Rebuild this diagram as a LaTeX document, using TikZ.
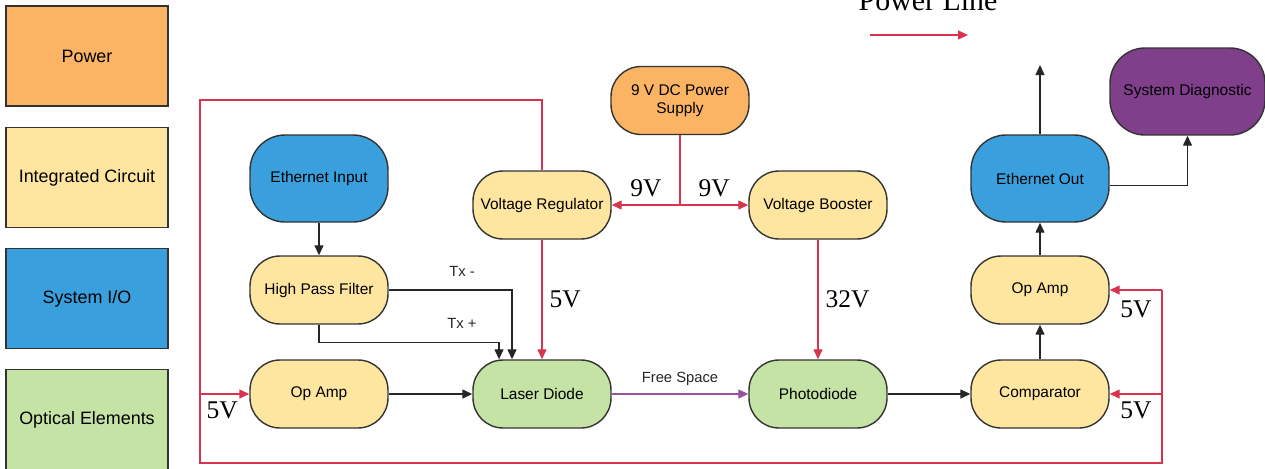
\documentclass[tikz,border=0pt]{standalone}
\usepackage{fontspec}
\setmainfont{Liberation Serif}
\setsansfont{Liberation Sans}
\usetikzlibrary{positioning,arrows.meta}
\definecolor{pwor}{HTML}{FAB464}
\definecolor{icyel}{HTML}{FFE6A0}
\definecolor{iobl}{HTML}{3AA0DD}
\definecolor{optgr}{HTML}{C4E3A4}
\definecolor{diagpu}{HTML}{7F3F8B}
\definecolor{pline}{HTML}{D9344E}
\definecolor{fsp}{HTML}{9A4FA0}
\definecolor{edge}{HTML}{333333}

\begin{document}
\begin{tikzpicture}[x=0.02cm,y=-0.02cm,>={Triangle[length=2mm,width=1.8mm]},
  blk/.style={draw=edge,line width=0.8pt,rounded corners=0.6cm,minimum width=2.76cm,
    minimum height=1.36cm,inner sep=2pt,align=center,font=\sffamily\fontsize{8.8}{10.5}\selectfont},
  ic/.style={blk,fill=icyel},
  io/.style={blk,fill=iobl,minimum height=1.74cm,rounded corners=0.7cm},
  opt/.style={blk,fill=optgr},
  pw/.style={blk,fill=pwor},
  leg/.style={draw=edge,line width=1.1pt,minimum width=3.24cm,minimum height=2cm,
    font=\sffamily\fontsize{10.2}{12}\selectfont},
  sig/.style={->,line width=0.75pt,black!85},
  pwr/.style={->,line width=0.75pt,pline},
  vlab/.style={text=black,font=\rmfamily\fontsize{14.5}{16}\selectfont,inner sep=4pt},
  slab/.style={text=black!85,font=\sffamily\fontsize{8.4}{10}\selectfont}]
  \useasboundingbox (0,0) rectangle (1265,468);

  % legend
  \node[leg,fill=pwor] (lpow) at (87,56) {Power};
  \node[leg,fill=icyel] (lic) at (87,177.5) {Integrated Circuit};
  \node[leg,fill=iobl] (lio) at (87,298.5) {System I/O};
  \node[leg,fill=optgr] (lopt) at (87,419.5) {Optical Elements};
  \node[font=\rmfamily\fontsize{17}{19}\selectfont,anchor=base] (plt) at (928,10) {Power Line};
  \coordinate (pla) at (870,35);
  \coordinate (plb) at (968,35);
  \draw[pwr] (pla) -- (plb);

  % blocks
  \node[io] (ethin) at (319,178.5) {Ethernet Input};
  \node[ic] (hpf) at (319,290) {High Pass Filter};
  \node[ic] (oal) at (319,394) {Op Amp};
  \node[opt] (ld) at (542,394) {Laser Diode};
  \node[ic] (vreg) at (542,205) {Voltage Regulator};
  \node[pw] (ps) at (680,100.5) {9 V DC Power\\Supply};
  \node[ic] (vbst) at (818,205) {Voltage Booster};
  \node[opt] (pd) at (818,394) {Photodiode};
  \node[ic] (cmp) at (1040,394) {Comparator};
  \node[ic] (oar) at (1040,290) {Op Amp};
  \node[io] (ethout) at (1040,178.5) {Ethernet Out};
  \node[blk,fill=diagpu,minimum width=3.1cm,minimum height=1.74cm,rounded corners=0.7cm] (sysd) at (1187.5,91.5) {System Diagnostic};

  % signal path
  \draw[sig] (ethin) -- (hpf);
  \draw[sig] (hpf.east) -| ([xshift=-0.6cm]ld.north);
  \draw[sig] (hpf.south) -- ++(0,18) -| ([xshift=-0.86cm]ld.north);
  \node[slab] (txm) at (462,271) {Tx -};
  \node[slab] (txp) at (462,323) {Tx +};
  \draw[sig] (oal) -- (ld);
  \draw[->,line width=0.75pt,fsp] (ld) -- node[above,slab,yshift=1pt] (fs) {Free Space} (pd);
  \draw[sig] (pd) -- (cmp);
  \draw[sig] (cmp) -- (oar);
  \draw[sig] (oar) -- (ethout);
  \coordinate (eup) at (1040,65);
  \draw[sig] (ethout) -- (eup);
  \draw[sig] ([yshift=-0.14cm]ethout.east) -| (sysd);

  % power lines
  \draw[line width=0.75pt,pline] (ps.south) -- (ps.south |- vreg.east) coordinate (sp);
  \draw[pwr] (sp) -- node[vlab,above] {9V} (vreg);
  \draw[pwr] (sp) -- node[vlab,above] {9V} (vbst);
  \draw[pwr] (vreg) -- node[vlab,right] {5V} (ld);
  \draw[pwr] (vbst) -- node[vlab,right] {32V} (pd);
  \coordinate (lt) at (200,100);
  \coordinate (lb) at (200,463);
  \coordinate (rb) at (1162,463);
  \draw[line width=0.75pt,pline] (vreg.north) |- (lt) -- (lb) -- (rb) -- (rb |- oar.east) coordinate (rt);
  \draw[pwr] (rt) -- node[vlab,below,yshift=-2pt] {5V} (oar);
  \draw[pwr] (lt |- oal.west) -- node[vlab,below,pos=0.45] {5V} (oal);
  \draw[pwr] (rb |- cmp.east) -- node[vlab,below] {5V} (cmp);
\end{tikzpicture}
\end{document}
